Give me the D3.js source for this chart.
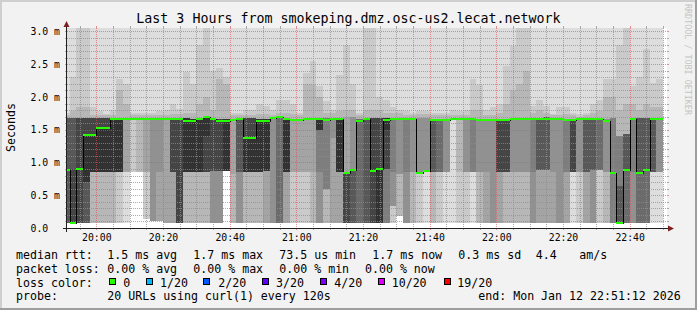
<!DOCTYPE html>
<html><head><meta charset="utf-8">
<script src="https://cdn.jsdelivr.net/npm/d3@7"></script>
<style>html,body{margin:0;padding:0;background:#F2F2F2;} svg{display:block;}</style>
</head><body><svg id="c" width="697" height="310"></svg>
<script>
// ---------------- data ----------------
const title = "Last 3 Hours from smokeping.dmz.osc-us2.lecat.network";
const day = "2026-01-12";
const firstStep = "19:50:00";     // start of first 2-minute step
const stepMinutes = 2;
const viewStart = "19:51:12", viewEnd = "22:51:12";
const pingsPerStep = 20;

// median rtt per step (ms)
const medianMs = [
 0.88,0.08,0.90,1.42,1.42,1.53,1.53,1.66,1.66,1.66,1.66,1.66,1.66,1.66,1.66,
 1.66,1.66,1.67,1.64,1.64,1.67,1.69,1.66,1.63,1.63,1.65,1.66,1.38,1.38,1.63,
 1.63,1.68,1.70,1.66,1.65,1.65,1.67,1.66,1.66,1.65,1.66,1.66,0.845,0.885,1.64,
 1.67,0.875,0.90,1.65,1.66,1.66,1.66,1.66,0.845,0.875,1.65,1.65,1.65,1.66,1.66,
 1.66,1.66,1.65,1.65,1.65,1.65,1.65,1.66,1.66,1.66,1.67,1.66,1.66,1.66,1.66,
 1.65,1.65,1.66,1.66,1.66,1.66,1.64,0.835,0.07,0.885,1.66,0.835,0.885,1.67,1.67
];
// packet loss per step (count of 20) - all zero
const lossCount = new Array(medianMs.length).fill(0);

// rtt distribution per step: [value ms, number of pings]
const pingGroups = [
 [[0.07,8],[0.88,4],[1.68,5],[1.72,1],[1.76,1],[3.2,1]],
 [[0.08,11],[0.9,1],[1.68,5],[1.78,1],[2.3,1],[3.2,1]],
 [[0.07,9],[0.9,2],[1.68,6],[1.85,1],[3.2,2]],
 [[0.07,8],[0.7,2],[1.42,1],[1.68,6],[1.85,1],[3.2,2]],
 [[0.07,3],[0.85,7],[1.42,1],[1.68,6],[1.72,1],[1.85,1],[3.2,1]],
 [[0.07,3],[0.85,7],[1.53,1],[1.68,6],[1.72,1],[1.78,1],[3.2,1]],
 [[0.07,3],[0.86,7],[1.53,1],[1.68,6],[1.72,1],[1.74,1],[3.2,1]],
 [[0.07,3],[0.85,7],[1.68,7],[1.72,1],[1.8,1],[3.2,1]],
 [[0.07,2],[0.85,8],[1.68,7],[2.1,1],[2.27,1],[3.2,1]],
 [[0.07,1],[0.85,3],[1.68,13],[1.9,1],[2.2,1],[3.2,1]],
 [[0.85,2],[1.68,15],[1.72,1],[1.76,1],[3.2,1]],
 [[0.85,3],[1.68,14],[1.72,1],[1.76,1],[3.2,1]],
 [[0.13,2],[0.85,2],[1.68,13],[1.72,1],[1.76,1],[3.2,1]],
 [[0.1,5],[1.68,12],[1.72,1],[1.76,1],[3.2,1]],
 [[0.1,4],[0.85,1],[1.68,12],[1.72,1],[1.78,1],[3.2,1]],
 [[0.08,4],[1.68,13],[1.72,1],[1.8,1],[3.2,1]],
 [[0.08,4],[0.85,5],[1.68,8],[1.74,1],[1.9,1],[3.2,1]],
 [[0.07,9],[1.68,8],[1.74,1],[1.82,1],[3.2,1]],
 [[0.07,3],[0.85,7],[1.68,7],[1.75,1],[2.38,1],[3.2,1]],
 [[0.07,3],[0.85,7],[1.66,7],[1.75,1],[2.2,1],[3.2,1]],
 [[0.07,3],[0.85,7],[1.68,7],[1.9,1],[2.8,1],[3.2,1]],
 [[0.07,3],[0.85,6],[1.4,1],[1.7,7],[2.0,1],[3.2,2]],
 [[0.07,5],[0.87,4],[1.66,8],[1.8,1],[2.4,1],[3.2,1]],
 [[0.07,5],[0.87,4],[1.66,8],[2.27,1],[2.45,1],[3.2,1]],
 [[0.87,10],[1.66,7],[2.2,1],[2.3,1],[3.2,1]],
 [[0.07,3],[0.83,1],[1.66,13],[1.72,1],[1.75,1],[3.2,1]],
 [[0.07,5],[0.85,3],[1.66,9],[1.72,1],[1.76,1],[3.2,1]],
 [[0.07,3],[0.85,7],[1.38,1],[1.68,6],[1.72,1],[1.8,1],[3.2,1]],
 [[0.07,3],[0.85,7],[1.38,1],[1.68,6],[1.72,1],[1.8,1],[3.2,1]],
 [[0.07,3],[0.85,7],[1.66,7],[1.74,1],[1.89,1],[3.2,1]],
 [[0.07,4],[0.87,6],[1.66,7],[1.74,1],[1.86,1],[3.2,1]],
 [[0.07,5],[1.68,12],[1.72,1],[1.8,1],[3.2,1]],
 [[0.07,7],[1.7,10],[1.75,1],[1.96,1],[3.2,1]],
 [[0.07,4],[0.85,6],[1.66,7],[1.75,1],[1.96,1],[3.2,1]],
 [[0.07,2],[0.85,2],[1.66,13],[1.74,1],[1.9,1],[3.2,1]],
 [[0.07,2],[0.85,2],[1.66,13],[1.72,1],[1.76,1],[3.2,1]],
 [[0.07,2],[0.85,2],[1.68,13],[2.2,1],[2.37,1],[3.2,1]],
 [[0.07,3],[0.85,1],[1.68,13],[2.2,1],[2.55,1],[3.2,1]],
 [[0.07,5],[0.85,1],[1.5,4],[1.68,7],[2.0,1],[2.17,1],[3.2,1]],
 [[0.08,3],[0.6,3],[1.68,11],[1.75,1],[1.94,1],[3.2,1]],
 [[0.08,4],[1.38,1],[1.68,12],[1.75,1],[1.8,1],[3.2,1]],
 [[0.07,4],[0.85,6],[1.68,7],[1.78,1],[2.33,1],[3.2,1]],
 [[0.07,9],[0.85,7],[1.7,1],[1.8,1],[2.8,1],[3.2,1]],
 [[0.07,8],[0.88,7],[1.7,2],[1.8,1],[2.2,1],[3.2,1]],
 [[0.07,7],[1.66,10],[1.72,1],[1.76,1],[3.2,1]],
 [[0.07,8],[1.68,9],[1.8,1],[3.3,2]],
 [[0.07,9],[0.87,2],[1.68,6],[1.8,1],[3.3,2]],
 [[0.07,10],[0.9,1],[1.68,6],[1.8,1],[2.0,1],[3.2,1]],
 [[0.07,6],[0.9,3],[1.5,1],[1.68,7],[1.75,1],[1.95,1],[3.2,1]],
 [[0.08,2],[0.34,3],[0.85,1],[1.68,11],[1.75,1],[1.84,1],[3.2,1]],
 [[0.18,3],[0.82,2],[1.68,12],[1.75,1],[1.8,1],[3.2,1]],
 [[0.07,5],[0.85,1],[1.68,11],[1.72,1],[1.78,1],[3.2,1]],
 [[0.07,3],[0.85,2],[1.68,12],[1.72,1],[1.76,1],[3.2,1]],
 [[0.07,2],[0.84,13],[1.68,2],[1.74,1],[1.78,1],[3.2,1]],
 [[0.07,1],[0.87,14],[1.68,2],[1.74,1],[1.78,1],[3.2,1]],
 [[0.07,3],[0.85,5],[1.66,9],[1.72,1],[1.76,1],[3.2,1]],
 [[0.07,2],[0.85,5],[1.66,10],[1.72,1],[1.76,1],[3.2,1]],
 [[0.07,1],[0.85,4],[1.66,12],[1.72,1],[1.76,1],[3.2,1]],
 [[0.07,1],[1.68,16],[1.72,1],[1.8,1],[3.2,1]],
 [[0.07,2],[0.85,1],[1.68,14],[1.72,1],[1.78,1],[3.2,1]],
 [[0.07,2],[0.85,3],[1.66,12],[1.72,1],[1.8,1],[3.2,1]],
 [[0.07,1],[0.85,5],[1.66,11],[1.8,1],[2.27,1],[3.2,1]],
 [[0.07,3],[0.85,2],[1.66,12],[1.8,1],[2.19,1],[3.2,1]],
 [[0.07,4],[0.85,1],[1.66,12],[1.72,1],[1.8,1],[3.2,1]],
 [[0.07,5],[1.66,12],[1.72,1],[1.84,1],[3.2,1]],
 [[0.07,4],[0.85,5],[1.66,8],[1.75,1],[1.89,1],[3.2,1]],
 [[0.07,3],[0.85,6],[1.66,8],[1.9,1],[2.47,1],[3.2,1]],
 [[0.07,3],[0.85,2],[1.66,12],[2.1,1],[2.78,1],[3.2,1]],
 [[0.07,3],[0.85,2],[1.66,12],[2.2,1],[3.3,2]],
 [[0.07,3],[0.85,2],[1.66,12],[2.4,1],[3.3,2]],
 [[0.07,5],[0.85,1],[1.66,11],[1.75,1],[1.86,1],[3.2,1]],
 [[0.07,4],[0.88,4],[1.68,9],[1.8,1],[1.96,1],[3.2,1]],
 [[0.07,4],[0.88,4],[1.7,9],[1.76,1],[1.86,1],[3.2,1]],
 [[0.07,4],[0.85,1],[1.66,12],[1.72,1],[1.74,1],[3.2,1]],
 [[0.07,5],[1.66,12],[1.72,1],[1.84,1],[3.2,1]],
 [[0.07,4],[0.85,2],[1.66,11],[1.74,1],[1.84,1],[3.2,1]],
 [[0.07,1],[0.85,8],[1.66,8],[1.72,1],[1.76,1],[3.2,1]],
 [[0.07,2],[0.85,3],[1.66,12],[1.7,1],[1.74,1],[3.2,1]],
 [[0.07,4],[0.85,4],[1.66,9],[1.72,1],[1.76,1],[3.2,1]],
 [[0.07,5],[0.88,3],[1.66,9],[1.75,1],[1.9,1],[3.2,1]],
 [[0.07,2],[0.88,5],[1.66,10],[1.78,1],[1.96,1],[3.2,1]],
 [[0.07,3],[0.85,2],[1.66,12],[2.0,1],[2.27,1],[3.2,1]],
 [[0.07,6],[0.84,8],[1.68,3],[2.0,1],[2.27,1],[3.2,1]],
 [[0.07,12],[0.64,2],[1.4,3],[1.8,1],[2.8,1],[3.2,1]],
 [[0.07,7],[0.88,5],[1.43,5],[1.9,1],[3.3,2]],
 [[0.07,5],[0.85,1],[1.68,11],[1.9,1],[2.17,1],[3.2,1]],
 [[0.07,7],[0.84,5],[1.68,5],[1.8,1],[2.3,1],[3.2,1]],
 [[0.07,7],[0.88,5],[1.68,5],[1.9,1],[2.73,1],[3.2,1]],
 [[0.07,1],[0.85,7],[1.68,9],[1.85,1],[2.22,1],[3.2,1]],
 [[0.07,1],[0.85,4],[1.68,12],[1.85,1],[2.27,1],[3.2,1]]
];

const yTickValues = [0, 0.5, 1.0, 1.5, 2.0, 2.5, 3.0];
const yTickLabels = ["0.0", "0.5 m", "1.0 m", "1.5 m", "2.0 m", "2.5 m", "3.0 m"];
const xTickLabels = ["20:00","20:20","20:40","21:00","21:20","21:40","22:00","22:20","22:40"];

const lossLegend = [
  {label:"0", color:"#26ff00"}, {label:"1/20", color:"#00b8ff"}, {label:"2/20", color:"#0059ff"},
  {label:"3/20", color:"#5e00ff"}, {label:"4/20", color:"#7e00ff"}, {label:"10/20", color:"#dd00ff"},
  {label:"19/20", color:"#ff0000"}
];
const rttStats = ["1.5 ms avg", "1.7 ms max", "73.5 us min", "1.7 ms now", "0.3 ms sd", "4.4", "am/s"];
const lossStats = ["0.00 % avg", "0.00 % max", "0.00 % min", "0.00 % now"];
const probeText = "20 URLs using curl(1) every 120s";
const endText = "end: Mon Jan 12 22:51:12 2026";

// ---------------- layout ----------------
const W = 697, H = 310;
const X0 = 67, X1 = 667, Y0 = 228, Y1 = 28;
const FONT = "'DejaVu Sans Mono', 'Liberation Mono', monospace";
const parse = d3.timeParse("%Y-%m-%d %H:%M:%S");
const x = d3.scaleTime().domain([parse(day+" "+viewStart), parse(day+" "+viewEnd)]).range([X0, X1]);
const y = d3.scaleLinear().domain([0, 3.053]).range([Y0, Y1]);
const t0 = parse(day+" "+firstStep);
const stepStart = k => d3.timeMinute.offset(t0, k*stepMinutes);

const svg = d3.select("#c");
svg.append("rect").attr("width", W).attr("height", H).attr("fill", "#F2F2F2");
// shade border
svg.append("rect").attr("x",0).attr("y",0).attr("width",W).attr("height",2).attr("fill","#CFCFCF");
svg.append("rect").attr("x",0).attr("y",0).attr("width",2).attr("height",H).attr("fill","#CFCFCF");
svg.append("rect").attr("x",W-2).attr("y",0).attr("width",2).attr("height",H).attr("fill","#9E9E9E");
svg.append("rect").attr("x",0).attr("y",H-2).attr("width",W).attr("height",2).attr("fill","#9E9E9E");

// canvas
svg.append("rect").attr("x", X0).attr("y", Y1).attr("width", X1-X0).attr("height", Y0-Y1).attr("fill", "#ffffff");
svg.append("clipPath").attr("id","plotclip").append("rect")
  .attr("x", X0).attr("y", Y1).attr("width", X1-X0).attr("height", Y0-Y1);

const plot = svg.append("g").attr("clip-path","url(#plotclip)").attr("shape-rendering","crispEdges");

// smoke
const half = pingsPerStep/2;
const shade = i => { const c = Math.floor(190/half*(half-i))+50; return d3.rgb(c,c,c).formatHex(); };
pingGroups.forEach((groups, k) => {
  const p = [];
  groups.forEach(([v,n]) => { for (let j=0;j<n;j++) p.push(v); });
  p.sort((a,b)=>a-b);
  const xa = Math.round(x(stepStart(k))), xb = Math.round(x(stepStart(k+1)));
  for (let i=1;i<=half;i++) {
    const lo = p[i-1], hi = p[pingsPerStep-i];
    const ya = Math.round(y(hi)), yb = Math.round(y(lo));
    if (yb - ya <= 0) continue;
    plot.append("rect").attr("x", xa).attr("width", xb-xa)
      .attr("y", ya).attr("height", yb-ya).attr("fill", shade(i));
  }
});

// grid
const grid = svg.append("g").attr("shape-rendering","crispEdges");
const minorCol = "rgba(143,143,143,0.75)", majorCol = "rgba(222,79,79,0.6)";
const vTimes = d3.timeMinute.every(5).range(x.domain()[0], x.domain()[1]);
vTimes.forEach(t => {
  const major = t.getMinutes() % 20 === 0;
  const xx = Math.round(x(t)) + 0.5;
  const col = major ? majorCol : minorCol;
  grid.append("line").attr("x1",xx).attr("x2",xx).attr("y1",Y1).attr("y2",Y0)
    .attr("stroke",col).attr("stroke-dasharray","1,1");
  grid.append("line").attr("x1",xx).attr("x2",xx).attr("y1",Y1-2).attr("y2",Y1).attr("stroke",col);
  grid.append("line").attr("x1",xx).attr("x2",xx).attr("y1",Y0).attr("y2",Y0+2).attr("stroke",col);
});
for (let m=1; m<=30; m++) {
  const v = m/10;
  const major = m % 5 === 0;
  const yy = Math.round(y(v)) + 0.5;
  const col = major ? majorCol : minorCol;
  grid.append("line").attr("x1",X0).attr("x2",X1).attr("y1",yy).attr("y2",yy)
    .attr("stroke",col).attr("stroke-dasharray","1,1");
  grid.append("line").attr("x1",X0-2).attr("x2",X0).attr("y1",yy).attr("y2",yy).attr("stroke",col);
  grid.append("line").attr("x1",X1).attr("x2",X1+2).attr("y1",yy).attr("y2",yy).attr("stroke",col);
}

// median line + loss coloured bars
const med = svg.append("g").attr("clip-path","url(#plotclip)").attr("shape-rendering","crispEdges");
let d = "";
medianMs.forEach((m,k) => {
  const xa = Math.round(x(stepStart(k))), xb = Math.round(x(stepStart(k+1)));
  const yy = Math.round(y(m)) + 0.5;
  d += (k===0 ? "M" : "L") + xa + "," + yy + "L" + xb + "," + yy;
});
med.append("path").attr("d", d).attr("fill","none").attr("stroke","#000").attr("stroke-width",1);
const lossThresholds = [0,1,2,3,4,10,19];
const lossColorFor = n => { let c = lossLegend[0].color; lossThresholds.forEach((th,i)=>{ if (n>=th) c = lossLegend[i].color; }); return c; };
medianMs.forEach((m,k) => {
  const xa = Math.round(x(stepStart(k))), xb = Math.round(x(stepStart(k+1)));
  const yy = Math.round(y(m));
  med.append("rect").attr("x", xa).attr("width", xb-xa).attr("y", yy-1).attr("height", 2)
    .attr("fill", lossColorFor(lossCount[k]));
});

// axes
const axisCol = "rgb(31,31,31)", arrowCol = "rgb(128,31,31)";
svg.append("line").attr("x1",X0-4).attr("x2",X1+2).attr("y1",Y0+0.5).attr("y2",Y0+0.5).attr("stroke",axisCol);
svg.append("line").attr("x1",X0-0.5).attr("x2",X0-0.5).attr("y1",Y0+4).attr("y2",Y1-2).attr("stroke",axisCol);
svg.append("path").attr("d",`M${X1+1},${Y0-2.5}L${X1+7},${Y0+0.5}L${X1+1},${Y0+3.5}Z`).attr("fill",arrowCol);
svg.append("path").attr("d",`M${X0-3.5},${Y1-1}L${X0-0.5},${Y1-7}L${X0+2.5},${Y1-1}Z`).attr("fill",arrowCol);

// y labels
yTickValues.forEach((v,i) => {
  svg.append("text").attr("x", 30.5).attr("y", y(v)+3.6)
    .attr("font-family", FONT).attr("font-size", 9.8).attr("fill","#000")
    .text(yTickLabels[i]);
});
// x labels
const xMajor = d3.timeMinute.every(20).range(x.domain()[0], x.domain()[1]);
xMajor.forEach((t,i) => {
  svg.append("text").attr("x", x(t)+0.5).attr("y", 240.5).attr("text-anchor","middle")
    .attr("font-family", FONT).attr("font-size", 9.8).attr("fill","#000")
    .text(xTickLabels[i]);
});

// title and axis title
svg.append("text").attr("x", 348.5).attr("y", 23).attr("text-anchor","middle")
  .attr("font-family", FONT).attr("font-size", 13.3).attr("fill","#000").text(title);
svg.append("text").attr("transform","translate(14.5,127.5) rotate(-90)").attr("text-anchor","middle")
  .attr("font-family", FONT).attr("font-size", 11.6).attr("fill","#000").text("Seconds");
svg.append("text").attr("transform","translate(685,4) rotate(90)").attr("text-anchor","start")
  .attr("font-family", FONT).attr("font-size", 8.4).attr("fill","#c4c4c4").text("RRDTOOL / TOBI OETIKER");

// legend
const L = svg.append("g").attr("font-family", FONT).attr("font-size", 11.6).attr("fill","#000");
const line = [258.7, 272.6, 286.5, 300.4];
const txt = (xx, yy, s) => L.append("text").attr("x", xx).attr("y", yy).attr("xml:space","preserve").text(s);
txt(16, line[0], "median rtt:");
[107.3, 193.3, 279.3, 372.3, 458.3, 535.7, 579.3].forEach((xx,i) => txt(xx, line[0], rttStats[i]));
txt(16, line[1], "packet loss:");
[107.3, 193.3, 279.3, 365].forEach((xx,i) => txt(xx, line[1], lossStats[i]));
txt(16, line[2], "loss color:");
const sqX = [108.7, 145.7, 203.3, 261.7, 320, 378.3, 444.3];
const lbX = [123.3, 160, 218.3, 276, 334.3, 391.7, 457.3];
lossLegend.forEach((e,i) => {
  L.append("rect").attr("x", sqX[i]+0.5).attr("y", 278.5).attr("width", 6).attr("height", 6)
    .attr("fill", e.color).attr("stroke", "#000").attr("stroke-width", 1).attr("shape-rendering","crispEdges");
  txt(lbX[i], line[2], e.label);
});
txt(16, line[3], "probe:");
txt(107.3, line[3], probeText);
txt(478.3, line[3], endText);
</script></body></html>
